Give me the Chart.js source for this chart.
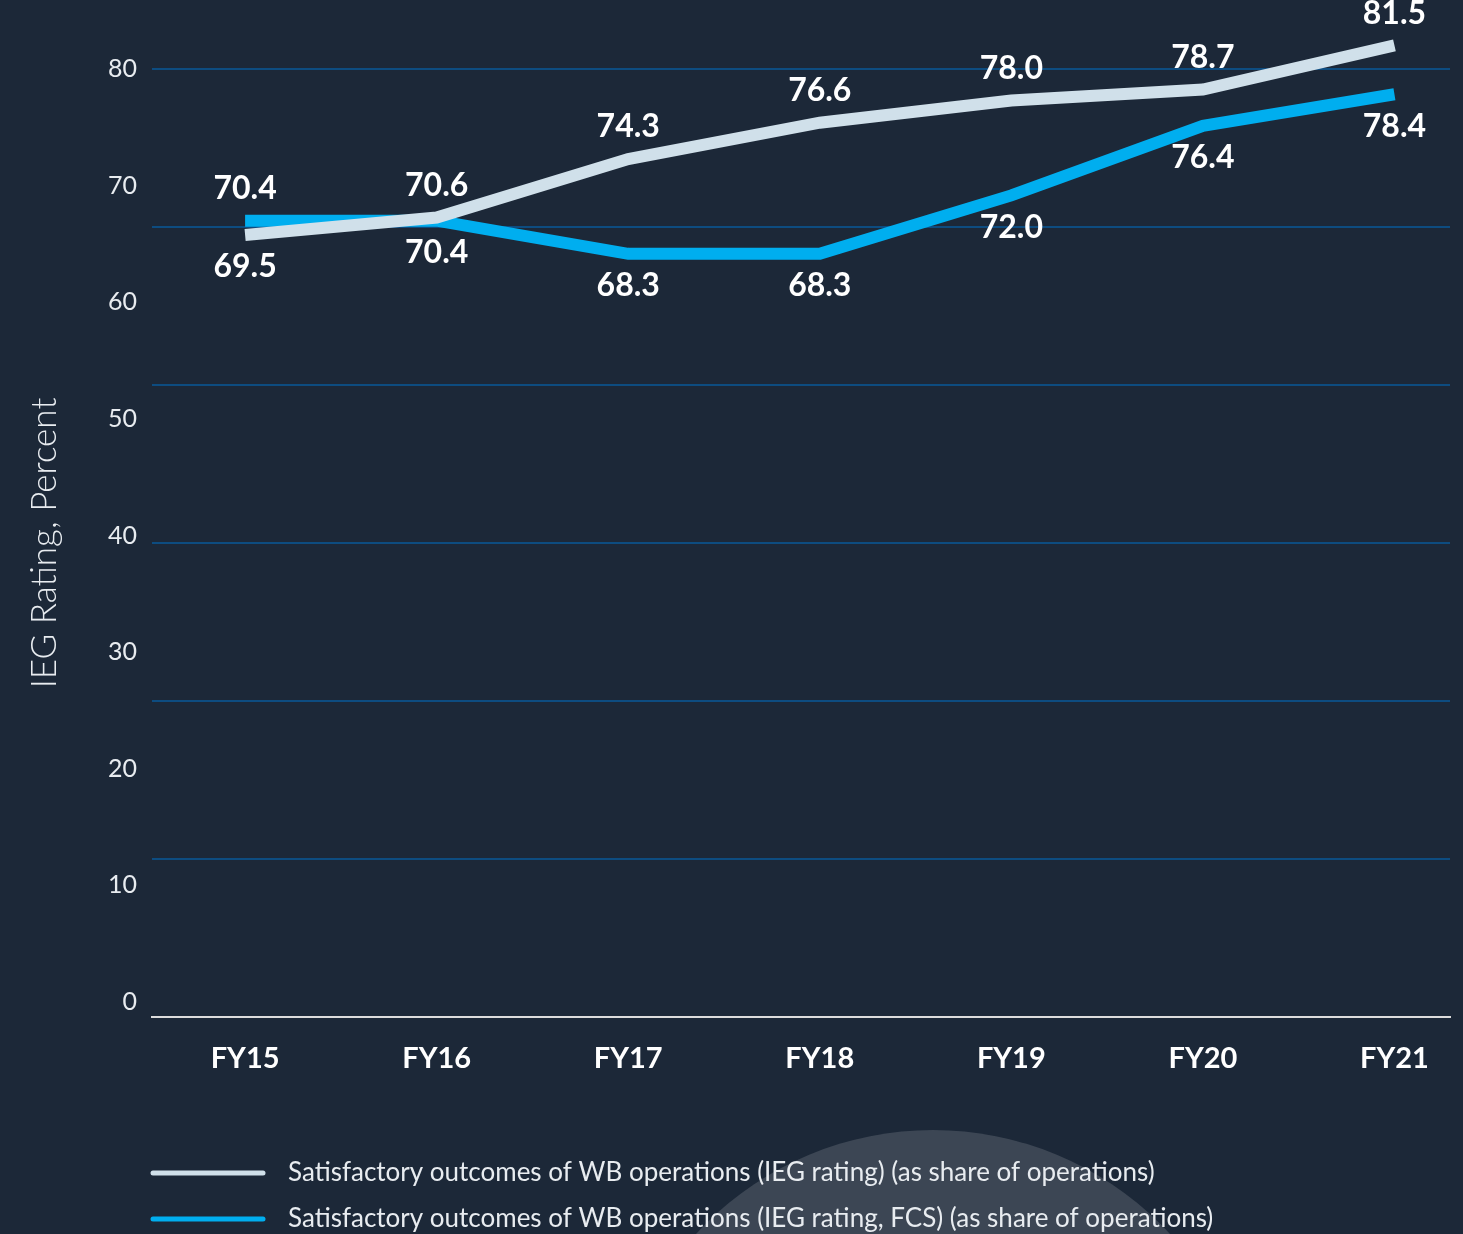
<!DOCTYPE html>
<html>
<head>
    <title>IEG rating</title>
    <script src="https://cdn.jsdelivr.net/npm/chart.js"></script>
    <style>
        body { margin: 0; background: #1c2838; overflow: hidden; }
        #wrap { position: relative; width: 1463px; height: 1234px; }
        #blob { position: absolute; left: 611px; top: 1130px; width: 644px; height: 644px;
                border-radius: 50%; background: rgba(255,255,255,0.14); }
        canvas { position: absolute; left: 0; top: 0; }
    </style>
</head>
<body>
<div id="wrap">
    <div id="blob"></div>
    <canvas id="ratingChart" width="1463" height="1234"></canvas>
</div>

<script>
    // data
    const years = ['FY15', 'FY16', 'FY17', 'FY18', 'FY19', 'FY20', 'FY21'];
    const satisfactory = [69.5, 70.6, 74.3, 76.6, 78.0, 78.7, 81.5];
    const satisfactoryFCS = [70.4, 70.4, 68.3, 68.3, 72.0, 76.4, 78.4];
    const yTickLabels = [0, 10, 20, 30, 40, 50, 60, 70, 80];
    const gridValues = [30, 40, 50, 60, 70, 80];

    // which side of the line each value label goes
    const whiteSide = ['below', 'above', 'above', 'above', 'above', 'above', 'above'];
    const cyanSide = ['above', 'below', 'below', 'below', 'below', 'below', 'below'];

    const txt = '#e8ecf0';

    const valueLabels = {
        id: 'valueLabels',
        afterDatasetsDraw(chart) {
            const ctx = chart.ctx;
            ctx.save();
            ctx.font = 'bold 32px Lato';
            ctx.fillStyle = '#ffffff';
            ctx.textAlign = 'center';
            ctx.textBaseline = 'middle';
            chart.data.datasets.forEach((ds, di) => {
                const sides = di === 0 ? whiteSide : cyanSide;
                chart.getDatasetMeta(di).data.forEach((pt, i) => {
                    const dy = sides[i] === 'above' ? -32 : 32;
                    ctx.fillText(ds.data[i].y.toFixed(1), pt.x, pt.y + dy);
                });
            });
            ctx.restore();
        }
    };

    const bottomLegend = {
        id: 'bottomLegend',
        afterDraw(chart) {
            const ctx = chart.ctx;
            ctx.save();
            ctx.font = '26px Lato';
            ctx.textBaseline = 'middle';
            ctx.lineCap = 'round';
            ctx.lineWidth = 5;
            chart.data.datasets.forEach((ds, i) => {
                const y = 1173 + i * 46;
                ctx.strokeStyle = ds.borderColor;
                ctx.beginPath();
                ctx.moveTo(153, y);
                ctx.lineTo(263, y);
                ctx.stroke();
                ctx.fillStyle = txt;
                ctx.fillText(ds.label, 288, y);
            });
            ctx.restore();
        }
    };

    new Chart(document.getElementById('ratingChart'), {
        type: 'line',
        data: {
            datasets: [{
                label: 'Satisfactory outcomes of WB operations (IEG rating) (as share of operations)',
                data: satisfactory.map((v, i) => ({ x: i, y: v })),
                borderColor: '#d0e0ea',
                borderWidth: 12,
                pointRadius: 0,
                tension: 0,
                clip: false
            }, {
                label: 'Satisfactory outcomes of WB operations (IEG rating, FCS) (as share of operations)',
                data: satisfactoryFCS.map((v, i) => ({ x: i, y: v })),
                borderColor: '#00aeef',
                borderWidth: 12,
                pointRadius: 0,
                tension: 0,
                clip: false
            }]
        },
        options: {
            responsive: false,
            animation: false,
            devicePixelRatio: 1,
            layout: { padding: { top: 69, right: 0, bottom: 0, left: 0 } },
            plugins: { legend: { display: false }, tooltip: { enabled: false } },
            scales: {
                x: {
                    type: 'linear', min: -0.486, max: 6.29,
                    afterBuildTicks: s => { s.ticks = years.map((_, i) => ({ value: i })); },
                    ticks: {
                        callback: v => years[v],
                        color: '#ffffff',
                        font: { family: 'Lato', size: 29, weight: 'bold' },
                        padding: 24, maxRotation: 0, autoSkip: false
                    },
                    grid: { display: false, drawTicks: false },
                    border: { display: true, color: '#dcdcdc', width: 2 },
                    afterFit: s => { s.height = 217; }
                },
                y: {
                    type: 'linear', position: 'right', min: 20, max: 80,
                    afterBuildTicks: s => { s.ticks = gridValues.map(v => ({ value: v })); },
                    ticks: { display: false },
                    grid: { color: '#0d4c80', lineWidth: 2, drawTicks: false },
                    border: { display: false },
                    afterFit: s => { s.width = 13; }
                },
                yl: {
                    type: 'linear', position: 'left', min: -1.29, max: 80,
                    afterBuildTicks: s => { s.ticks = yTickLabels.map(v => ({ value: v })); },
                    ticks: { color: txt, font: { family: 'Lato', size: 25 }, padding: 15 },
                    grid: { display: false, drawTicks: false },
                    border: { display: false },
                    title: {
                        display: true, text: 'IEG Rating, Percent', color: txt,
                        font: { family: 'Lato', size: 35, weight: 300 },
                        padding: { top: 24, bottom: 0 }
                    },
                    afterFit: s => { s.width = 152; }
                }
            }
        },
        plugins: [valueLabels, bottomLegend]
    });
</script>
</body>
</html>
